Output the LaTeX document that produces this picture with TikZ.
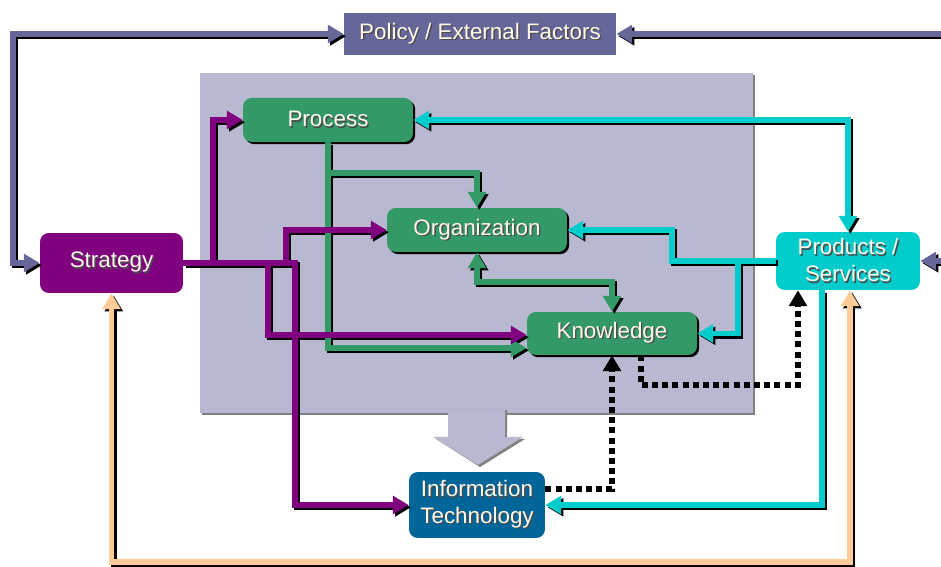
\documentclass[tikz,border=0pt]{standalone}
\usepackage{fontspec}
\setmainfont{Liberation Sans}
\usetikzlibrary{arrows.meta,shadows}
\definecolor{policyblue}{RGB}{102,102,153}
\definecolor{panelgray}{RGB}{184,184,209}
\definecolor{procgreen}{RGB}{51,153,102}
\definecolor{stratpurple}{RGB}{128,0,128}
\definecolor{prodcyan}{RGB}{0,204,204}
\definecolor{itblue}{RGB}{0,102,153}
\definecolor{peach}{RGB}{255,204,153}
\definecolor{labelwhite}{RGB}{255,250,235}
\newcommand\shd[1]{\leavevmode\rlap{\kern0.8pt\lower0.8pt\hbox{\color{black!70}#1}}#1}
\tikzset{
  box/.style={rectangle, rounded corners=5pt, inner sep=0pt, text=labelwhite,
    align=center, font=\fontsize{12.75}{15.3}\selectfont},
  greenbox/.style={box, fill=procgreen, minimum width=3.4cm, minimum height=0.88cm,
    drop shadow={shadow xshift=1.2pt, shadow yshift=-1.2pt, fill=black, opacity=1}},
  link/.style={line width=3.4pt, draw=#1},
  dotlink/.style={line width=3.4pt, draw=black, dash pattern=on 3.4pt off 2.4pt}
}
% all coloured links, drawn once as shadow and once in colour
\newcommand\drawlinks{%
  % policy links
  \draw[link=policyblue, <->] (strategy.west) -| (13,34) -- (policy.west);
  \draw[link=policyblue, <->] (products.east) -| (965,34) -- (policy.east);
  % green links
  \draw[link=procgreen, ->] (process.south) |- (knowledge.west |- 0,348);
  \draw[link=procgreen, ->] (process.south) -- (328,173) -| (organization.north);
  \draw[link=procgreen, <->] (organization.south) |- (612,282) -- (knowledge.north);
  % purple links
  \draw[link=stratpurple, ->] (strategy.east) -| (213,120) -- (process.west);
  \draw[link=stratpurple, ->] (strategy.east) -| (286,230) -- (organization.west);
  \draw[link=stratpurple, ->] (strategy.east) -| (268,335) -- (knowledge.west |- 0,335);
  \draw[link=stratpurple, ->] (strategy.east) -| (295,505) -- (infotech.west);
  % cyan links
  \draw[link=prodcyan, <->] (process.east) -| (products.north);
  \draw[link=prodcyan, ->] (products.west) -| (672,230) -- (organization.east);
  \draw[link=prodcyan, ->] (products.west) -| (738,333.5) -- (knowledge.east);
  \draw[link=prodcyan, ->] (822,0 |- products.south) |- (infotech.east);
  % peach link
  \draw[link=peach, <->] (strategy.south) |- (850,562) -- (850,0 |- products.south);
}

\begin{document}
\begin{tikzpicture}[x=0.02cm, y=-0.02cm, >={Triangle[length=9pt,width=10pt]}]
\useasboundingbox (0,0) rectangle (941,567);
% panel and its arrow
\fill[panelgray, drop shadow={shadow xshift=1.2pt, shadow yshift=-1.2pt, fill=gray, opacity=1}]
  (200,73) rectangle (753,413);
\fill[gray] (450,410) -- (450,439) -- (436,439) -- (480,467) -- (525,439) -- (507,439) -- (507,410) -- cycle;
\fill[panelgray] (448,410) -- (448,437) -- (433,437) -- (478,465) -- (523,437) -- (505,437) -- (505,410) -- cycle;

% boxes
\node[box, rounded corners=0pt, fill=policyblue, minimum width=5.44cm, minimum height=0.84cm]
  (policy) at (480,34) {\shd{Policy / External Factors}};
\node[greenbox] (process) at (328,120) {\shd{Process}};
\node[greenbox, minimum width=3.6cm] (organization) at (477,230) {\shd{Organization}};
\node[greenbox, minimum height=0.86cm] (knowledge) at (612,333.5) {\shd{Knowledge}};
\node[box, fill=stratpurple, minimum width=2.86cm, minimum height=1.2cm]
  (strategy) at (111.5,263) {\shd{Strategy}};
\node[box, fill=prodcyan, minimum width=2.88cm, minimum height=1.16cm]
  (products) at (848,261) {\shd{Products /}\\\shd{Services}};
\node[box, fill=itblue, minimum width=2.72cm, minimum height=1.32cm]
  (infotech) at (477,505) {\shd{Information}\\\shd{Technology}};

% shadows first, then the links
\begin{scope}[transform canvas={shift={(1.3pt,-1.3pt)}}, link/.style={line width=3.4pt, draw=black}]
  \drawlinks
\end{scope}
\drawlinks

% dotted links
\draw[dotlink, ->] (infotech.east |- 0,489) -| (knowledge.south);
\draw[dotlink, ->] (641,0 |- knowledge.south) |- (798,385) -- (798,0 |- products.south);
\end{tikzpicture}
\end{document}
